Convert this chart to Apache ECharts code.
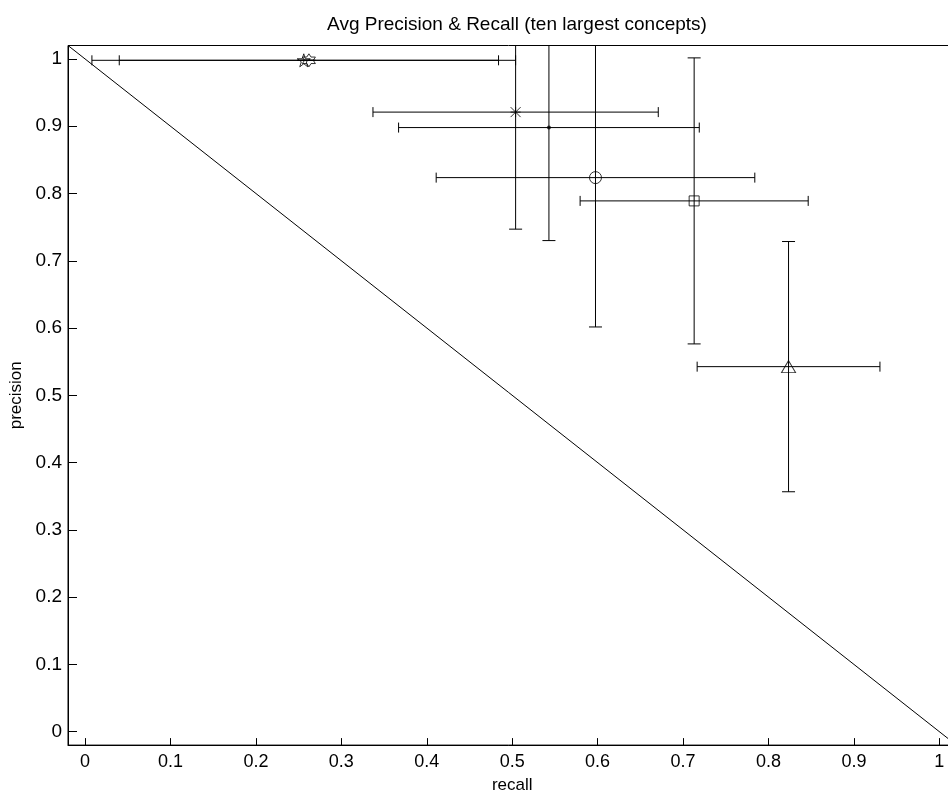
<!DOCTYPE html>
<html>
<head>
<meta charset="utf-8">
<script src="https://cdn.jsdelivr.net/npm/echarts@6/dist/echarts.min.js"></script>
<style>
  html, body { margin: 0; padding: 0; background: #fff; }
  #chart { width: 948px; height: 795px; }
</style>
</head>
<body>
<div id="chart"></div>
<script>
// Mean recall / precision per concept, with their standard deviations
const conceptMarkers = ['pentagram', 'hexagram', 'asterisk', 'dot', 'circle', 'square', 'triangle'];
const recallMean     = [0.256, 0.262, 0.504, 0.543, 0.5975, 0.713, 0.8235];
const recallStd      = [0.248, 0.222, 0.167, 0.176, 0.1865, 0.1335, 0.107];
const precisionMean  = [0.998, 0.998, 0.921, 0.898, 0.8236, 0.789, 0.5426];
const precisionStd   = [0.0, 0.0, 0.174, 0.168, 0.222, 0.2126, 0.186];

const tickValues = [0, 0.1, 0.2, 0.3, 0.4, 0.5, 0.6, 0.7, 0.8, 0.9, 1];
const axisMin = -0.02, axisMax = 1.02;

const FONT = '"Liberation Sans", Arial, Helvetica, sans-serif';

const symbolPaths = {
  asterisk: 'path://M0 0L10 10M10 0L0 10M5 0L5 10M0 5L10 5',
  pentagram: 'path://M5 0L6.18 3.62L10 3.62L6.91 5.86L8.09 9.51L5 7.27L1.91 9.51L3.09 5.86L0 3.62L3.82 3.62Z',
  hexagram: 'path://M5 0L6.44 2.5L9.33 2.5L7.89 5L9.33 7.5L6.44 7.5L5 10L3.56 7.5L0.67 7.5L2.11 5L0.67 2.5L3.56 2.5Z'
};

const errorData = recallMean.map((r, i) => [r, precisionMean[i], recallStd[i], precisionStd[i]]);

// Horizontal (recall) and vertical (precision) error bars with end caps
function renderErrorBars(params, api) {
  const x = api.value(0), y = api.value(1), dx = api.value(2), dy = api.value(3);
  const l = api.coord([x - dx, y]), r = api.coord([x + dx, y]);
  const t = api.coord([x, y + dy]), b = api.coord([x, y - dy]);
  const capH = 5, capW = 6.5;
  const style = { stroke: '#000', lineWidth: 1, fill: null };
  const seg = (x1, y1, x2, y2) => ({ type: 'line', shape: { x1, y1, x2, y2 }, style });
  const cs = params.coordSys;
  return {
    type: 'group',
    clipPath: { type: 'rect', shape: { x: cs.x, y: cs.y, width: cs.width, height: cs.height } },
    children: [
      seg(l[0], l[1], r[0], r[1]),
      seg(l[0], l[1] - capH, l[0], l[1] + capH),
      seg(r[0], r[1] - capH, r[0], r[1] + capH),
      seg(t[0], t[1], b[0], b[1]),
      seg(t[0] - capW, t[1], t[0] + capW, t[1]),
      seg(b[0] - capW, b[1], b[0] + capW, b[1])
    ]
  };
}

function markerSeries(kind, i) {
  const base = {
    type: 'scatter',
    data: [[recallMean[i], precisionMean[i]]],
    z: 5,
    silent: true,
    itemStyle: { color: 'none', borderColor: '#000', borderWidth: 1 }
  };
  if (kind === 'circle') return Object.assign(base, { symbol: 'circle', symbolSize: 12 });
  if (kind === 'square') return Object.assign(base, { symbol: 'rect', symbolSize: 10 });
  if (kind === 'triangle') return Object.assign(base, { symbol: 'triangle', symbolSize: [14, 12] });
  if (kind === 'dot') return Object.assign(base, { symbol: 'circle', symbolSize: 4, itemStyle: { color: '#000' } });
  return Object.assign(base, { symbol: symbolPaths[kind], symbolSize: kind === 'asterisk' ? 10 : 13 });
}

const chart = echarts.init(document.getElementById('chart'), null, { renderer: 'canvas' });

const labelFmt = v => String(+v.toFixed(2));

chart.setOption({
  animation: false,
  backgroundColor: '#fff',
  title: {
    text: 'Avg Precision & Recall (ten largest concepts)',
    left: 512, textAlign: 'center', top: 10,
    textStyle: { fontFamily: FONT, fontSize: 19, fontWeight: 'normal', color: '#000' }
  },
  grid: {
    left: 68, top: 45.5, width: 888.4, height: 699.6,
    outerBoundsMode: 'none', containLabel: false,
    show: true, borderColor: '#000', borderWidth: 1, backgroundColor: 'transparent'
  },
  xAxis: {
    type: 'value', min: axisMin, max: axisMax,
    name: 'recall', nameLocation: 'middle', nameGap: 32,
    nameTextStyle: { fontFamily: FONT, fontSize: 17, color: '#000' },
    axisLine: { show: true, onZero: false, lineStyle: { color: '#000', width: 1 } },
    axisTick: { show: true, inside: true, length: 7, customValues: tickValues, lineStyle: { color: '#000' } },
    axisLabel: { customValues: tickValues, formatter: labelFmt, margin: 8, fontFamily: FONT, fontSize: 18, color: '#000' },
    splitLine: { show: false }
  },
  yAxis: {
    type: 'value', min: axisMin, max: axisMax,
    name: 'precision', nameLocation: 'middle', nameGap: 42, nameRotate: 90,
    nameTextStyle: { fontFamily: FONT, fontSize: 17, color: '#000' },
    axisLine: { show: true, onZero: false, lineStyle: { color: '#000', width: 1 } },
    axisTick: { show: true, inside: true, length: 9, customValues: tickValues, lineStyle: { color: '#000' } },
    axisLabel: { customValues: tickValues, formatter: labelFmt, margin: 6, fontFamily: FONT, fontSize: 19, color: '#000' },
    splitLine: { show: false }
  },
  series: [
    {
      type: 'line',
      data: [[axisMin, axisMax], [axisMax, axisMin]],
      showSymbol: false, silent: true,
      lineStyle: { color: '#000', width: 1 },
      z: 1
    },
    {
      type: 'custom',
      data: errorData,
      renderItem: renderErrorBars,
      silent: true,
      z: 2
    }
  ].concat(conceptMarkers.map(markerSeries))
});
</script>
</body>
</html>
